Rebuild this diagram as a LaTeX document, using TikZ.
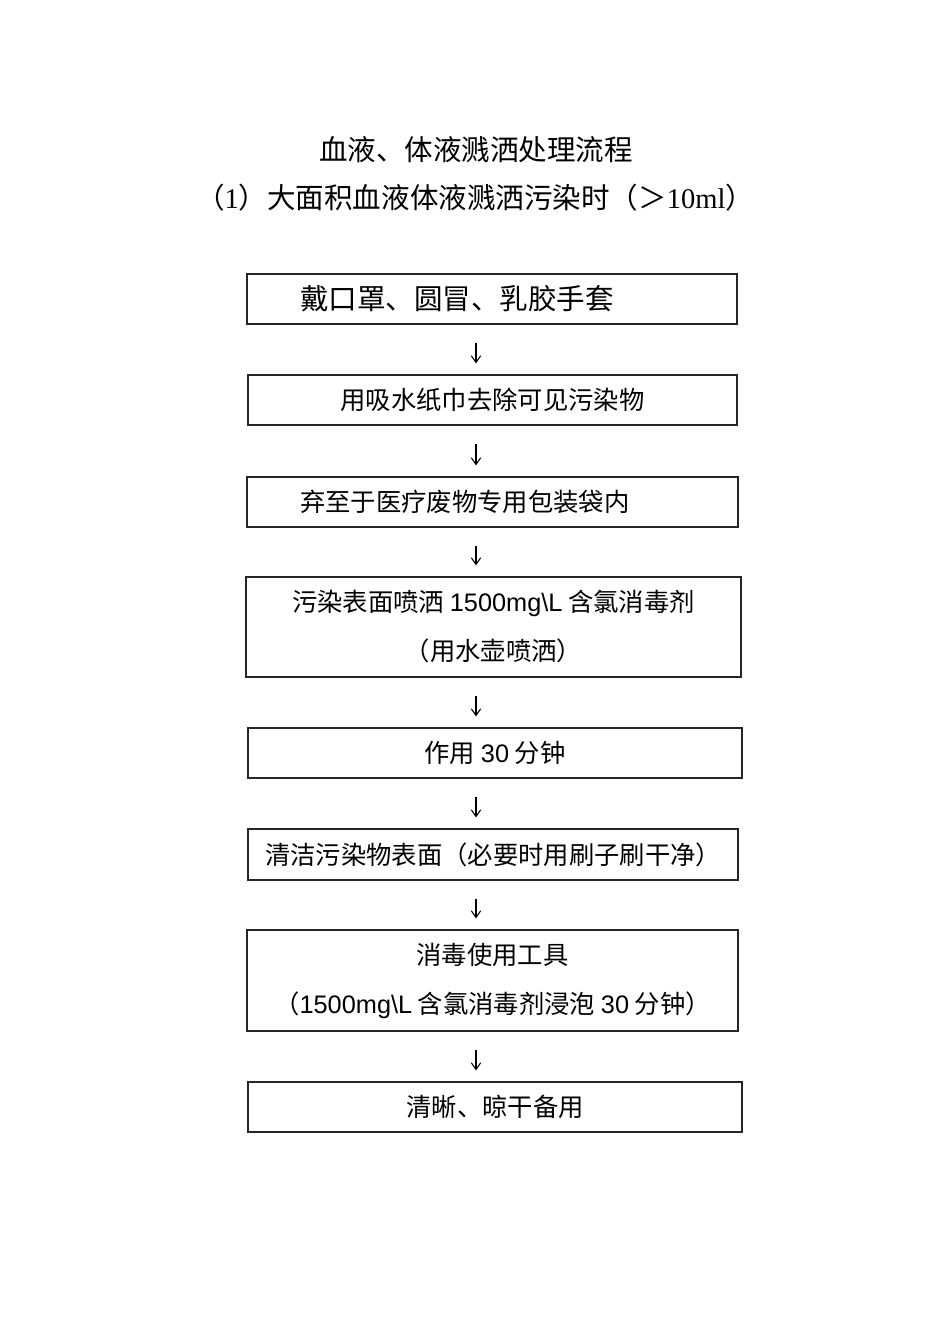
\documentclass[tikz,border=0pt]{standalone}
\usepackage{fontspec}
\setmainfont{Noto Sans CJK SC}
\newfontfamily\lsans{Liberation Sans}
\newfontfamily\lserif{Liberation Serif}
\usetikzlibrary{arrows.meta}
\begin{document}
\begin{tikzpicture}[x=0.75pt,y=-0.75pt,
  box/.style={draw=black!85,line width=0.9pt,inner sep=0pt,minimum height=37.5pt,font=\fontsize{19}{36.75}\selectfont,align=center},
  tallbox/.style={box,minimum height=75pt},
  leftbox/.style={box,align=left,text width=288pt,inner xsep=39.75pt},
  arr/.style={-{Straight Barb[length=5pt,width=7pt]},line width=0.8pt,shorten <=13.5pt,shorten >=8.25pt},
  ttl/.style={font=\fontsize{21.4}{25}\selectfont}]
\useasboundingbox (0,0) rectangle (950,1344);
% headings
\node[ttl] (title) at (476,150) {血液、体液溅洒处理流程};
\node[ttl] (subtitle) at (475,198) {（{\lserif 1}）大面积血液体液溅洒污染时（＞{\lserif 10ml}）};
% steps
\node[leftbox,font=\fontsize{21.4}{25}\selectfont] (b1) at (492,299) {戴口罩、圆冒、乳胶手套};
\node[box,minimum width=366.75pt] (b2) at (492.5,400) {用吸水纸巾去除可见污染物};
\node[leftbox,text width=288.75pt] (b3) at (492.5,502) {弃至于医疗废物专用包装袋内};
\node[tallbox,minimum width=371.25pt] (b4) at (493.5,627) {污染表面喷洒 {\lsans 1500mg\textbackslash L} 含氯消毒剂\\（用水壶喷洒）};
\node[box,minimum width=370.5pt] (b5) at (495,753) {作用 {\lsans 30} 分钟};
\node[box,minimum width=367.5pt,minimum height=38.25pt] (b6) at (493,854.5) {清洁污染物表面（必要时用刷子刷干净）};
\node[tallbox,minimum width=368.25pt,minimum height=75.75pt] (b7) at (492.5,980.5) {消毒使用工具\\（{\lsans 1500mg\textbackslash L} 含氯消毒剂浸泡 {\lsans 30} 分钟）};
\node[box,minimum width=370.5pt] (b8) at (495,1107) {清晰、晾干备用};
% arrows
\coordinate (ax) at (476,0);
\draw[arr] (b1.south -| ax) -- (b2.north -| ax);
\draw[arr] (b2.south -| ax) -- (b3.north -| ax);
\draw[arr] (b3.south -| ax) -- (b4.north -| ax);
\draw[arr] (b4.south -| ax) -- (b5.north -| ax);
\draw[arr] (b5.south -| ax) -- (b6.north -| ax);
\draw[arr] (b6.south -| ax) -- (b7.north -| ax);
\draw[arr] (b7.south -| ax) -- (b8.north -| ax);
\end{tikzpicture}
\end{document}
